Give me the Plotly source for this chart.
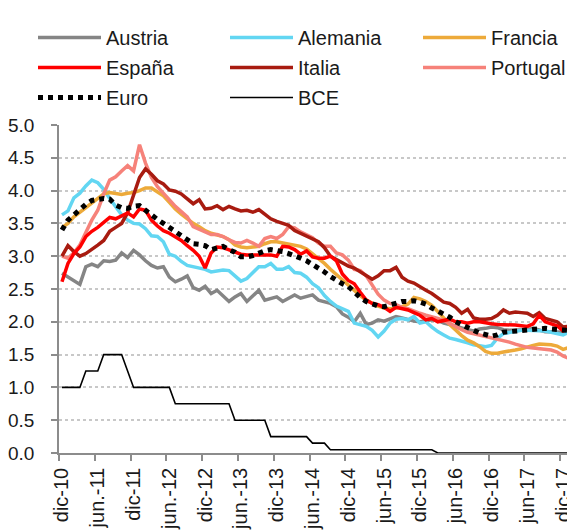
import plotly.graph_objects as go

# Monthly data, dic-2010 (index 0) to feb-2018 (index 86)
tick_labels = ["dic-10", "jun.-11", "dic-11", "jun.-12", "dic-12", "jun.-13", "dic-13",
               "jun.-14", "dic-14", "jun-15", "dic-15", "jun-16", "dic-16", "jun-17", "dic-17"]

austria = [2.74, 2.68, 2.62, 2.57, 2.84, 2.88, 2.84, 2.93, 2.92, 2.94, 3.05, 2.98, 3.09, 3.02, 2.93,
           2.86, 2.82, 2.84, 2.68, 2.61, 2.65, 2.70, 2.52, 2.48, 2.54, 2.43, 2.48, 2.40, 2.31, 2.38,
           2.43, 2.31, 2.40, 2.48, 2.33, 2.36, 2.38, 2.31, 2.36, 2.41, 2.36, 2.38, 2.41, 2.33, 2.30,
           2.28, 2.23, 2.12, 2.07, 2.00, 2.13, 1.96, 1.98, 2.03, 2.01, 2.05, 2.08, 2.06, 2.03, 2.01,
           2.00, 2.02, 2.03, 2.02, 1.98, 1.96, 1.93, 1.90, 1.88, 1.86, 1.89, 1.90, 1.92, 1.91, 1.88,
           1.87, 1.87, 1.87, 1.88, 1.90, 1.88, 1.85, 1.85, 1.85, 1.84, 1.83, 1.83]

alemania = [3.63, 3.69, 3.89, 3.96, 4.07, 4.16, 4.12, 4.02, 3.88, 3.75, 3.63, 3.55, 3.50, 3.49, 3.42,
            3.31, 3.30, 3.22, 3.03, 3.00, 2.92, 2.86, 2.84, 2.82, 2.80, 2.76, 2.78, 2.79, 2.78, 2.70,
            2.62, 2.66, 2.75, 2.84, 2.84, 2.89, 2.80, 2.80, 2.84, 2.75, 2.74, 2.68, 2.58, 2.52, 2.40,
            2.31, 2.24, 2.20, 2.16, 1.98, 1.95, 1.93, 1.87, 1.77, 1.86, 1.98, 2.04, 2.05, 2.03, 2.08,
            1.98, 2.00, 1.92, 1.85, 1.80, 1.75, 1.73, 1.71, 1.68, 1.65, 1.63, 1.62, 1.64, 1.75, 1.82,
            1.84, 1.85, 1.87, 1.87, 1.87, 1.87, 1.86, 1.84, 1.82, 1.80, 1.84, 1.82]

francia = [3.44, 3.50, 3.60, 3.67, 3.75, 3.82, 3.89, 3.95, 3.97, 3.95, 3.94, 3.96, 3.97, 4.00, 4.04,
           4.04, 3.98, 3.92, 3.82, 3.72, 3.64, 3.57, 3.50, 3.45, 3.39, 3.35, 3.33, 3.30, 3.25, 3.17,
           3.14, 3.13, 3.14, 3.15, 3.19, 3.22, 3.22, 3.20, 3.19, 3.17, 3.15, 3.11, 3.04, 2.97, 2.89,
           2.80, 2.72, 2.63, 2.55, 2.48, 2.40, 2.33, 2.28, 2.24, 2.21, 2.20, 2.21, 2.23, 2.27, 2.37,
           2.35, 2.31, 2.25, 2.16, 2.06, 1.96, 1.87, 1.79, 1.72, 1.68, 1.62, 1.55, 1.52, 1.52, 1.54,
           1.55, 1.57, 1.59, 1.62, 1.64, 1.66, 1.66, 1.65, 1.63, 1.58, 1.61, 1.63]

espana = [2.61, 2.89, 3.04, 3.14, 3.30, 3.38, 3.44, 3.52, 3.59, 3.57, 3.62, 3.66, 3.60, 3.72, 3.70,
          3.55, 3.46, 3.39, 3.35, 3.30, 3.24, 3.16, 3.09, 3.00, 2.82, 3.05, 3.14, 3.13, 3.10, 3.06,
          3.03, 3.02, 3.02, 3.03, 3.02, 3.02, 3.00, 3.15, 3.14, 3.10, 3.03, 3.08, 2.99, 2.97, 2.97,
          3.00, 2.93, 2.73, 2.63, 2.58, 2.45, 2.33, 2.28, 2.26, 2.22, 2.16, 2.22, 2.20, 2.18, 2.14,
          2.10, 2.03, 2.05, 2.00, 2.02, 2.04, 2.00, 2.00, 1.98, 2.00, 2.00, 1.98, 1.97, 1.96, 1.96,
          1.96, 1.95, 1.94, 1.93, 1.97, 2.10, 2.00, 1.97, 1.94, 1.86, 1.90, 1.95]

italia = [3.00, 3.16, 3.07, 3.00, 3.04, 3.10, 3.17, 3.24, 3.38, 3.44, 3.50, 3.66, 3.92, 4.20, 4.33,
          4.25, 4.15, 4.10, 4.01, 3.99, 3.95, 3.88, 3.80, 3.86, 3.72, 3.73, 3.77, 3.71, 3.76, 3.72,
          3.69, 3.70, 3.67, 3.71, 3.64, 3.57, 3.53, 3.50, 3.47, 3.39, 3.35, 3.31, 3.26, 3.22, 3.13,
          3.00, 2.95, 2.90, 2.85, 2.82, 2.76, 2.70, 2.65, 2.70, 2.78, 2.78, 2.83, 2.68, 2.62, 2.59,
          2.53, 2.48, 2.43, 2.36, 2.30, 2.28, 2.22, 2.13, 2.19, 2.06, 2.04, 2.04, 2.05, 2.10, 2.18,
          2.13, 2.15, 2.14, 2.13, 2.08, 2.14, 2.05, 2.02, 2.00, 1.92, 1.93, 1.95]

portugal = [3.00, 2.97, 3.05, 3.17, 3.36, 3.55, 3.70, 3.95, 4.16, 4.21, 4.30, 4.38, 4.30, 4.70, 4.42,
            4.20, 4.06, 3.96, 3.86, 3.76, 3.68, 3.60, 3.45, 3.41, 3.36, 3.33, 3.33, 3.30, 3.25, 3.21,
            3.20, 3.24, 3.20, 3.15, 3.27, 3.30, 3.27, 3.33, 3.45, 3.43, 3.37, 3.32, 3.28, 3.20, 3.15,
            3.15, 3.05, 3.02, 2.94, 2.80, 2.78, 2.70, 2.55, 2.42, 2.33, 2.28, 2.26, 2.22, 2.20, 2.16,
            2.13, 2.10, 2.08, 2.05, 2.02, 1.97, 1.92, 1.88, 1.84, 1.82, 1.80, 1.78, 1.76, 1.74, 1.72,
            1.69, 1.66, 1.63, 1.61, 1.60, 1.59, 1.58, 1.57, 1.54, 1.48, 1.44, 1.45]

euro = [3.40, 3.55, 3.63, 3.72, 3.79, 3.85, 3.87, 3.88, 3.87, 3.78, 3.74, 3.73, 3.76, 3.77, 3.70,
        3.62, 3.56, 3.50, 3.44, 3.38, 3.30, 3.24, 3.19, 3.18, 3.16, 3.10, 3.13, 3.15, 3.10, 3.06,
        2.99, 2.99, 3.01, 3.05, 3.08, 3.10, 3.09, 3.07, 3.04, 3.01, 2.97, 2.93, 2.88, 2.82, 2.76,
        2.69, 2.63, 2.58, 2.54, 2.45, 2.37, 2.31, 2.27, 2.24, 2.23, 2.26, 2.30, 2.31, 2.31, 2.32,
        2.30, 2.27, 2.21, 2.17, 2.12, 2.07, 2.00, 1.95, 1.90, 1.87, 1.83, 1.80, 1.78, 1.80, 1.84,
        1.85, 1.86, 1.86, 1.87, 1.89, 1.90, 1.90, 1.89, 1.88, 1.87, 1.86, 1.86]

bce = [1.00, 1.00, 1.00, 1.00, 1.25, 1.25, 1.25, 1.50, 1.50, 1.50, 1.50, 1.25, 1.00, 1.00, 1.00,
       1.00, 1.00, 1.00, 1.00, 0.75, 0.75, 0.75, 0.75, 0.75, 0.75, 0.75, 0.75, 0.75, 0.75, 0.50,
       0.50, 0.50, 0.50, 0.50, 0.50, 0.25, 0.25, 0.25, 0.25, 0.25, 0.25, 0.25, 0.15, 0.15, 0.15,
       0.05, 0.05, 0.05, 0.05, 0.05, 0.05, 0.05, 0.05, 0.05, 0.05, 0.05, 0.05, 0.05, 0.05, 0.05,
       0.05, 0.05, 0.05, 0.00, 0.00, 0.00, 0.00, 0.00, 0.00, 0.00, 0.00, 0.00, 0.00, 0.00, 0.00,
       0.00, 0.00, 0.00, 0.00, 0.00, 0.00, 0.00, 0.00, 0.00, 0.00, 0.00, 0.00]

x = list(range(len(euro)))

FONT = "Liberation Sans"
series = [
    # name, values, color, width, dash, legend, rank
    ("Austria", austria, "#858585", 3.5, "solid", "legend", 1),
    ("Alemania", alemania, "#62D6F2", 3.5, "solid", "legend2", 1),
    ("Francia", francia, "#EDAA3A", 3.5, "solid", "legend3", 1),
    ("Portugal", portugal, "#F6827A", 3.5, "solid", "legend3", 2),
    ("Italia", italia, "#A81B10", 3.5, "solid", "legend2", 2),
    ("España", espana, "#FF0000", 3.5, "solid", "legend", 2),
    ("BCE", bce, "#000000", 1.6, "solid", "legend2", 3),
    ("Euro", euro, "#000000", 5, "5px,5px", "legend", 3),
]

fig = go.Figure()
for name, vals, color, w, dash, leg, rank in series:
    fig.add_trace(go.Scatter(
        x=x, y=vals, mode="lines", name=name,
        line=dict(color=color, width=w, dash=dash),
        legend=leg, legendrank=rank, legendgroup=name,
        hoverinfo="skip",
    ))

W, H = 567, 522  # page body adds an 8px offset
legend_common = dict(
    orientation="v", xref="container", yref="container",
    yanchor="top", y=1 - 10 / H, xanchor="left",
    font=dict(family=FONT, size=20, color="#1a1a1a"),
    itemwidth=63, bgcolor="rgba(0,0,0,0)", borderwidth=0,
    traceorder="grouped", tracegroupgap=1,
)

tickvals = [6 * i for i in range(len(tick_labels))]
minor_vals = [v - 0.5 for v in tickvals]

fig.update_layout(
    width=W, height=H,
    margin=dict(l=51, r=0, t=117, b=77, autoexpand=False),
    paper_bgcolor="white", plot_bgcolor="white",
    showlegend=True,
    legend=dict(legend_common, x=25 / W),
    legend2=dict(legend_common, x=217 / W),
    legend3=dict(legend_common, x=410 / W),
    xaxis=dict(
        range=[-0.5, 86], tickmode="array", tickvals=tickvals, ticktext=tick_labels,
        tickangle=-90, ticks="outside", ticklen=5, tickcolor="rgba(0,0,0,0)",
        showline=True, linecolor="#8C8C8C", linewidth=1.5,
        showgrid=False, zeroline=False,
        tickfont=dict(family=FONT, size=20, color="#1a1a1a"),
        minor=dict(tickmode="array", tickvals=minor_vals, ticks="outside", ticklen=6,
                   tickcolor="#8C8C8C", tickwidth=1.5, showgrid=False),
    ),
    yaxis=dict(
        range=[0, 5], tickmode="array", tickvals=[i * 0.5 for i in range(11)],
        tickformat=".1f", ticks="outside", ticklen=6, tickcolor="#8C8C8C", tickwidth=1.5,
        showline=True, linecolor="#8C8C8C", linewidth=1.5,
        showgrid=True, gridcolor="#C8C8C8", gridwidth=1.5, griddash="dot",
        zeroline=False, ticklabelstandoff=13,
        tickfont=dict(family=FONT, size=19, color="#1a1a1a"),
    ),
)

fig.write_html("out.html")
